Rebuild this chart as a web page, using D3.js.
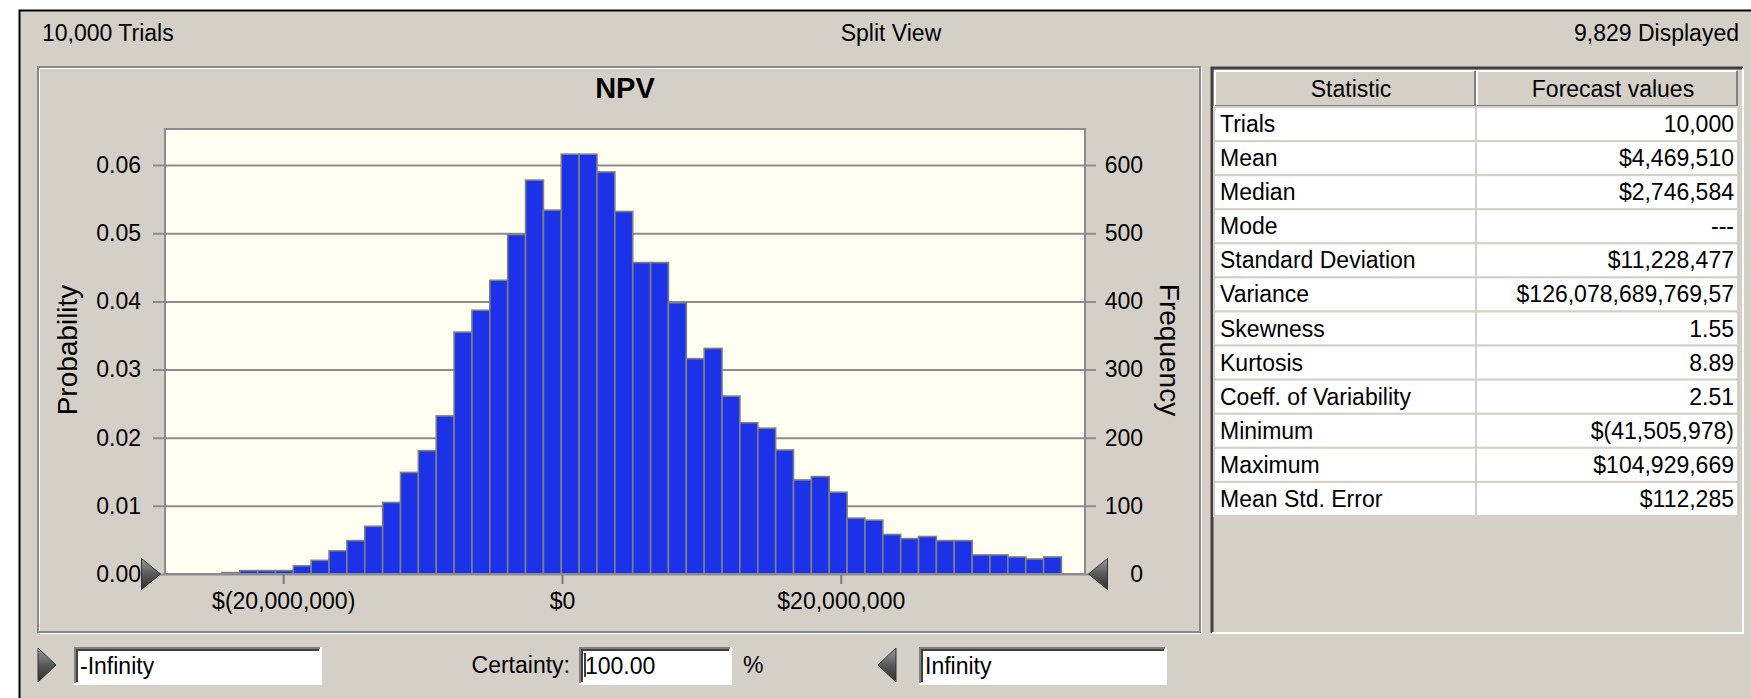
<!DOCTYPE html>
<html>
<head>
<meta charset="utf-8">
<script src="https://cdn.jsdelivr.net/npm/d3@7"></script>
<style>
  body { margin: 0; background: #fff; }
  svg text { font-family: "Liberation Sans", Arial, sans-serif; fill: #000; }
</style>
</head>
<body>
<svg id="chart" width="1751" height="698"></svg>
<script>
// histogram bins (NPV, dollars) and trial counts per bin
const binStart = -24.4e6;
const binWidth = 1.2815e6;
const frequencies = [2, 5, 5, 5, 12, 20, 34, 49, 70, 105,
    149, 181, 232, 355, 387, 431, 498, 578, 534, 616,
    616, 590, 532, 457, 457, 398, 316, 331, 261, 222,
    214, 182, 138, 143, 120, 82, 79, 58, 52, 55,
    49, 49, 28, 28, 25, 22, 25];
const trials = 10000;

const probTicks = [0, 0.01, 0.02, 0.03, 0.04, 0.05, 0.06];
const freqTicks = [0, 100, 200, 300, 400, 500, 600];
const npvTicks = [-20e6, 0, 20e6];

const statNames = ["Trials", "Mean", "Median", "Mode", "Standard Deviation", "Variance",
    "Skewness", "Kurtosis", "Coeff. of Variability", "Minimum", "Maximum", "Mean Std. Error"];
const statValues = ["10,000", "$4,469,510", "$2,746,584", "---", "$11,228,477", "$126,078,689,769,57",
    "1.55", "8.89", "2.51", "$(41,505,978)", "$104,929,669", "$112,285"];

const GRAY = "#d4d0c8";
const svg = d3.select("#chart");

// window frame
svg.append("rect").attr("x", 19).attr("y", 10).attr("width", 1732).attr("height", 688).attr("fill", GRAY);
svg.append("path").attr("d", "M19.5,698V10.5H1751").attr("fill", "none").attr("stroke", "#000").attr("stroke-width", 2);

// header strip
svg.append("text").attr("x", 42).attr("y", 41).style("font-size", "23px").text("10,000 Trials");
svg.append("text").attr("x", 891).attr("y", 41).attr("text-anchor", "middle").style("font-size", "23px").text("Split View");
svg.append("text").attr("x", 1739).attr("y", 41).attr("text-anchor", "end").style("font-size", "23px").text("9,829 Displayed");

// etched panel borders
function etched(x, y, w, h) {
    svg.append("rect").attr("x", x + 1).attr("y", y + 1).attr("width", w).attr("height", h)
        .attr("fill", "none").attr("stroke", "#fff").attr("stroke-width", 2);
    svg.append("rect").attr("x", x).attr("y", y).attr("width", w).attr("height", h)
        .attr("fill", "none").attr("stroke", "#8a8a8a").attr("stroke-width", 2);
}
etched(38, 67, 1162, 565);

// stats panel (sunken)
svg.append("path").attr("d", "M1212,633V68H1743").attr("fill", "none").attr("stroke", "#404040").attr("stroke-width", 3);
svg.append("path").attr("d", "M1212,633H1743V68").attr("fill", "none").attr("stroke", "#fff").attr("stroke-width", 2);

// ---------- histogram ----------
const plot = { left: 165, right: 1085, top: 129, bottom: 574 };

const x = d3.scaleLinear().domain([-28.48e6, 37.52e6]).range([plot.left, plot.right]);
const yProb = d3.scaleLinear().domain([0, 0.0653]).range([plot.bottom, plot.top]);
const yFreq = d3.scaleLinear().domain([0, 0.0653 * trials]).range([plot.bottom, plot.top]);

svg.append("rect")
    .attr("x", plot.left).attr("y", plot.top)
    .attr("width", plot.right - plot.left).attr("height", plot.bottom - plot.top)
    .attr("fill", "#fefef0");

svg.append("text").attr("x", (plot.left + plot.right) / 2).attr("y", 98)
    .attr("text-anchor", "middle").style("font-size", "29px").style("font-weight", "bold").text("NPV");

// left axis with gridlines running across
const leftAxis = svg.append("g")
    .attr("transform", `translate(${plot.left - 12},0)`)
    .call(d3.axisLeft(yProb).tickValues(probTicks).tickFormat(d3.format(".2f"))
        .tickSizeInner(-(plot.right - plot.left + 23)).tickSizeOuter(0).tickPadding(12));
leftAxis.select(".domain").remove();
leftAxis.selectAll(".tick line").attr("stroke", "#8c8c8c").attr("stroke-width", 2);
leftAxis.selectAll(".tick text").style("font-size", "23px").attr("fill", "#000");

const rightAxis = svg.append("g")
    .attr("transform", `translate(${plot.right},0)`)
    .call(d3.axisRight(yFreq).tickValues(freqTicks).tickSize(0).tickPadding(58));
rightAxis.select(".domain").remove();
rightAxis.selectAll(".tick text").attr("text-anchor", "end").style("font-size", "23px").attr("fill", "#000");

const fmtMoney = v => v < 0 ? "$(" + d3.format(",")(-v) + ")" : "$" + d3.format(",")(v);
const bottomAxis = svg.append("g")
    .attr("transform", `translate(0,${plot.bottom})`)
    .call(d3.axisBottom(x).tickValues(npvTicks).tickFormat(fmtMoney).tickSizeInner(10).tickSizeOuter(0).tickPadding(9));
bottomAxis.select(".domain").remove();
bottomAxis.selectAll(".tick line").attr("stroke", "#7a7a7a").attr("stroke-width", 2);
bottomAxis.selectAll(".tick text").style("font-size", "23px").attr("fill", "#000");

// bars
svg.append("g").selectAll("rect")
    .data(frequencies)
    .join("rect")
    .attr("x", (d, i) => x(binStart + i * binWidth))
    .attr("width", (d, i) => x(binStart + (i + 1) * binWidth) - x(binStart + i * binWidth))
    .attr("y", d => yFreq(d))
    .attr("height", d => plot.bottom - yFreq(d))
    .attr("fill", "#1b32e8")
    .attr("stroke", "#7f7f7f")
    .attr("stroke-width", 1.6);

// plot frame (top, left, right)
svg.append("path")
    .attr("d", `M${plot.left},${plot.bottom}V${plot.top}H${plot.right}V${plot.bottom}`)
    .attr("fill", "none").attr("stroke", "#8c8c8c").attr("stroke-width", 2);
svg.append("line")
    .attr("x1", plot.left).attr("x2", plot.right)
    .attr("y1", yProb(0)).attr("y2", yProb(0))
    .attr("stroke", "#8c8c8c").attr("stroke-width", 2);

// axis titles
svg.append("text").attr("transform", `translate(67,350) rotate(-90)`)
    .attr("text-anchor", "middle").attr("dy", "0.35em").style("font-size", "28px").attr("fill", "#222").text("Probability");
svg.append("text").attr("transform", `translate(1170,350) rotate(90)`)
    .attr("text-anchor", "middle").attr("dy", "0.35em").style("font-size", "28px").attr("fill", "#222").text("Frequency");

// triangle markers
const defs = svg.append("defs");
const grad = defs.append("linearGradient").attr("id", "tri").attr("x1", 0).attr("x2", 0).attr("y1", 0).attr("y2", 1);
grad.append("stop").attr("offset", 0).attr("stop-color", "#9a9a9a");
grad.append("stop").attr("offset", 0.5).attr("stop-color", "#5a5a5a");
grad.append("stop").attr("offset", 1).attr("stop-color", "#2e2e2e");

function triangle(cx, cy, dir, w, h) {
    const tip = cx + dir * w / 2, base = cx - dir * w / 2;
    svg.append("path")
        .attr("d", `M${base},${cy - h / 2}L${tip},${cy}L${base},${cy + h / 2}Z`)
        .attr("fill", "url(#tri)").attr("stroke", "#333").attr("stroke-width", 1);
}
triangle(151, yProb(0), 1, 19, 31);
triangle(1098, yProb(0), -1, 19, 31);

// ---------- statistics table ----------
const tbl = { left: 1214, mid: 1476, right: 1738, top: 70, headBottom: 107 };
const rowY = d3.scaleBand().domain(statNames).range([tbl.headBottom, 516]);

// header buttons
[[tbl.left, tbl.mid, "Statistic"], [tbl.mid, tbl.right, "Forecast values"]].forEach(([a, b, label]) => {
    svg.append("rect").attr("x", a).attr("y", tbl.top).attr("width", b - a).attr("height", tbl.headBottom - tbl.top).attr("fill", GRAY);
    svg.append("path").attr("d", `M${a + 1},${tbl.headBottom - 1}V${tbl.top + 1}H${b - 1}`).attr("fill", "none").attr("stroke", "#fff").attr("stroke-width", 2);
    svg.append("path").attr("d", `M${a + 1},${tbl.headBottom - 1}H${b - 1}V${tbl.top + 1}`).attr("fill", "none").attr("stroke", "#808080").attr("stroke-width", 2);
    svg.append("text").attr("x", (a + b) / 2 + 6).attr("y", (tbl.top + tbl.headBottom) / 2).attr("dy", "0.35em")
        .attr("text-anchor", "middle").style("font-size", "23px").text(label);
});

const rows = svg.append("g").selectAll("g").data(statNames).join("g")
    .attr("transform", d => `translate(0,${rowY(d)})`);
rows.append("rect").attr("x", tbl.left).attr("width", tbl.right - tbl.left).attr("height", rowY.bandwidth())
    .attr("fill", "#fff").attr("stroke", GRAY).attr("stroke-width", 2);
rows.append("line").attr("x1", tbl.mid).attr("x2", tbl.mid).attr("y1", 0).attr("y2", rowY.bandwidth())
    .attr("stroke", GRAY).attr("stroke-width", 2);
rows.append("text").attr("x", tbl.left + 6).attr("y", rowY.bandwidth() / 2).attr("dy", "0.35em")
    .style("font-size", "23px").text(d => d);
rows.append("text").attr("x", tbl.right - 4).attr("y", rowY.bandwidth() / 2).attr("dy", "0.35em")
    .attr("text-anchor", "end").style("font-size", "23px").text((d, i) => statValues[i]);

// ---------- bottom controls ----------
function textBox(x0, w, label) {
    const y0 = 647, h = 37;
    svg.append("rect").attr("x", x0).attr("y", y0).attr("width", w).attr("height", h).attr("fill", "#fff");
    svg.append("path").attr("d", `M${x0 + 1},${y0 + h}V${y0 + 1}H${x0 + w}`).attr("fill", "none").attr("stroke", "#808080").attr("stroke-width", 2);
    svg.append("path").attr("d", `M${x0 + 3},${y0 + h - 2}V${y0 + 3}H${x0 + w - 2}`).attr("fill", "none").attr("stroke", "#404040").attr("stroke-width", 2);
    svg.append("path").attr("d", `M${x0},${y0 + h}H${x0 + w}V${y0}`).attr("fill", "none").attr("stroke", "#fff").attr("stroke-width", 2);
    svg.append("text").attr("x", x0 + 6).attr("y", y0 + h / 2).attr("dy", "0.35em").style("font-size", "23px").text(label);
}
triangle(47, 665, 1, 18, 34);
textBox(74, 247, "-Infinity");
svg.append("text").attr("x", 570).attr("y", 665).attr("dy", "0.35em").attr("text-anchor", "end").style("font-size", "23px").text("Certainty:");
textBox(579, 152, "100.00");
svg.append("line").attr("x1", 585).attr("x2", 585).attr("y1", 653).attr("y2", 677).attr("stroke", "#000").attr("stroke-width", 1.5);
svg.append("text").attr("x", 743).attr("y", 665).attr("dy", "0.35em").style("font-size", "23px").text("%");
triangle(887, 665, -1, 18, 34);
textBox(919, 247, "Infinity");
</script>
</body>
</html>
